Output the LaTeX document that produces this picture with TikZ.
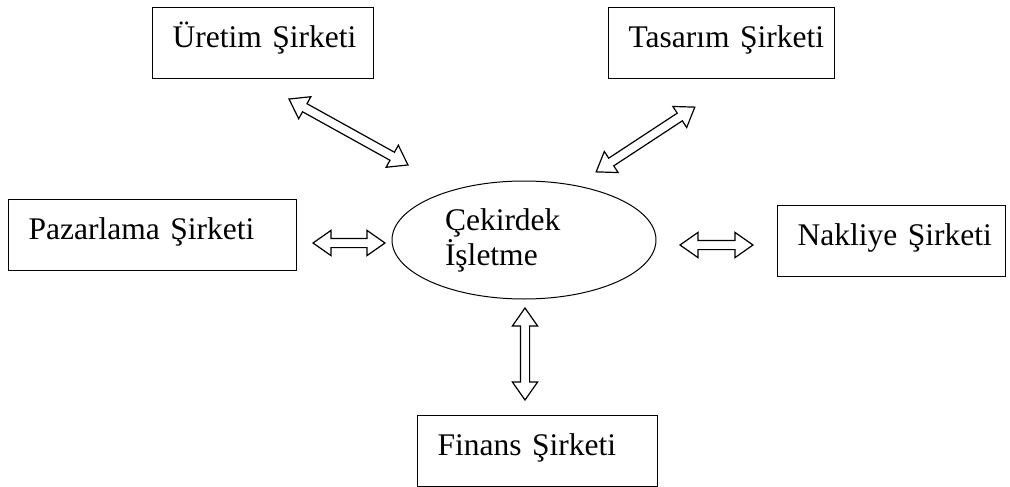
\documentclass[tikz,border=0pt]{standalone}
\usepackage{fontspec}
\setmainfont{Liberation Serif}
\usetikzlibrary{positioning,shapes.geometric,shapes.arrows}

\begin{document}
\begin{tikzpicture}[x=1pt,y=-1pt,
    font=\fontsize{31.5}{35}\selectfont,
    firm/.style={draw, line width=1.2pt, anchor=north west,
        inner xsep=20pt, inner ysep=0pt,
        text height=40pt, text depth=31pt, align=left,
        execute at begin node={\hyphenpenalty=10000\relax}},
    link/.style={double arrow, draw, line width=1.2pt, sloped,
        inner xsep=0pt, inner ysep=4pt,
        double arrow head extend=8pt, double arrow tip angle=70}]
    \useasboundingbox (0,0) rectangle (1010,487);
    % the firms around the core
    \node[firm, text width=181pt] (U) at (152,7) {Üretim~Şirketi};
    \node[firm, text width=186pt] (T) at (608,7) {Tasarım~Şirketi};
    \node[firm, text width=248pt] (P) at (8,199) {Pazarlama~Şirketi};
    \node[firm, text width=188pt] (N) at (777,205) {Nakliye~Şirketi};
    \node[firm, text width=200pt] (F) at (417,415) {Finans~Şirketi};
    \node[ellipse, draw, line width=1pt, inner sep=0pt,
        minimum width=264pt, minimum height=118pt,
        text width=158pt, align=left] (C) at (524,240) {Çekirdek\\İşletme};
    % arrow ends
    \coordinate (u1) at (289,99);   \coordinate (u2) at (408,165);
    \coordinate (t1) at (596,172);  \coordinate (t2) at (695,107);
    \coordinate (p1) at (313,243);  \coordinate (p2) at (385,243);
    \coordinate (n1) at (680,245);  \coordinate (n2) at (753,245);
    \coordinate (f1) at (525,308);  \coordinate (f2) at (525,400);
    \path (u1) -- node[link, minimum height=136pt] {} (u2)
          (t1) -- node[link, minimum height=118pt] {} (t2)
          (p1) -- node[link, minimum height=72pt] {} (p2)
          (n1) -- node[link, minimum height=73pt] {} (n2)
          (f1) -- node[link, minimum height=92pt] {} (f2);
\end{tikzpicture}
\end{document}
